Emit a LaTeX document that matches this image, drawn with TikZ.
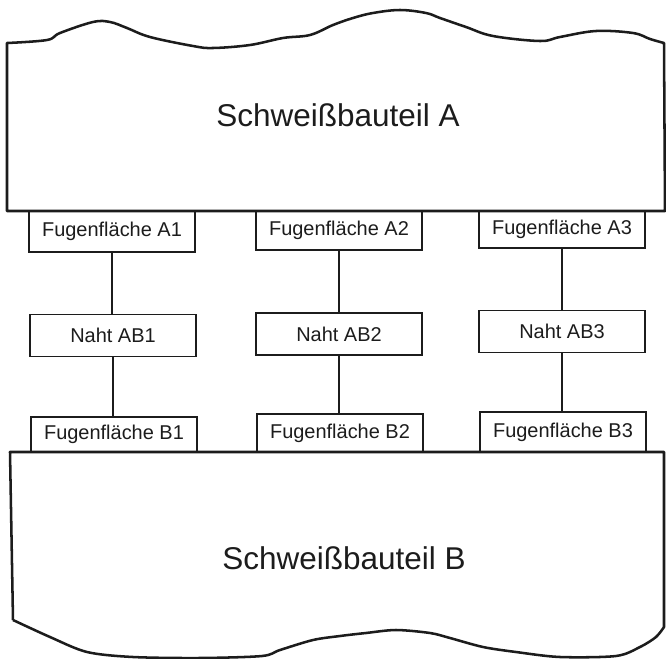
\documentclass[tikz,border=0pt]{standalone}
\usepackage{fontspec}
\setmainfont{Liberation Sans}
\usepackage{tikz}
\usetikzlibrary{positioning}
\definecolor{ink}{HTML}{1C1C1C}
\tikzset{
  partedge/.style={
    draw=ink, line width=1.8pt, line join=round
  },
  partlabel/.style={
    font=\fontsize{22.4}{26}\selectfont, text=ink, inner sep=0pt
  },
  fugebox/.style={
    rectangle, draw=ink, line width=0.9pt,
    minimum width=4.15cm, minimum height=0.95cm,
    font=\fontsize{14.2}{16}\selectfont, text=ink,
    inner sep=0pt
  },
  nahtbox/.style={
    rectangle, draw=ink, line width=0.9pt,
    minimum width=4.15cm, minimum height=1.05cm,
    font=\fontsize{14.2}{16}\selectfont, text=ink,
    inner sep=0pt
  },
  link/.style={
    draw=ink, line width=1.9pt
  },
}
\begin{document}
\begin{tikzpicture}[x=0.025cm, y=-0.025cm]
\useasboundingbox (0,0) rectangle (666,659);

% part A, wavy upper edge
\draw[partedge] (7,211)
  -- plot[smooth, tension=0.6] coordinates {(7,43) (47,40) (60,33) (93,22)
    (110,22) (127,28) (150,37) (193,46) (213,48) (250,45) (283,38) (310,35)
    (333,25) (353,18) (373,13) (400,10) (426,13) (440,18) (466,27) (493,36)
    (540,41) (560,37) (596,31) (633,33) (650,39) (664,43)}
  -- (665,211) -- cycle;
\node[partlabel] (partA) at (338,115) {Schweißbauteil A};

% part B, wavy lower edge
\draw[partedge] (13,620) -- (10,452) -- (664,452)
  -- plot[smooth, tension=0.5] coordinates {(664,627) (656,637) (640,647)
    (616,656) (560,657) (516,652) (483,647) (450,638) (430,633) (396,630)
    (366,633) (340,636) (313,640) (280,650) (262,656) (200,658) (133,657)
    (87,652) (50,637) (13,620)};
\node[partlabel] (partB) at (344,558) {Schweißbauteil B};

% joint faces on A
\node[fugebox, minimum height=1.02cm] (fa1) at (112,231.5) {Fugenfläche A1};
\node[fugebox, minimum height=0.98cm] (fa2) at (339,230.5) {Fugenfläche A2};
\node[fugebox, minimum height=0.93cm] (fa3) at (562,229.5) {Fugenfläche A3};

% seams
\node[nahtbox] (naht1) at (113,335.5) {Naht AB1};
\node[nahtbox] (naht2) at (339,334) {Naht AB2};
\node[nahtbox] (naht3) at (562,331.5) {Naht AB3};

% joint faces on B
\node[fugebox, minimum height=0.88cm] (fb1) at (114,434.5) {Fugenfläche B1};
\node[fugebox, minimum height=0.95cm] (fb2) at (340,433) {Fugenfläche B2};
\node[fugebox, minimum height=1.0cm] (fb3) at (563,432) {Fugenfläche B3};

\draw[link] (fa1.south) -- (fa1.south |- naht1.north);
\draw[link] (fa2.south) -- (fa2.south |- naht2.north);
\draw[link] (fa3.south) -- (fa3.south |- naht3.north);
\draw[link] (naht1.south) -- (naht1.south |- fb1.north);
\draw[link] (naht2.south) -- (naht2.south |- fb2.north);
\draw[link] (naht3.south) -- (naht3.south |- fb3.north);

\end{tikzpicture}
\end{document}
